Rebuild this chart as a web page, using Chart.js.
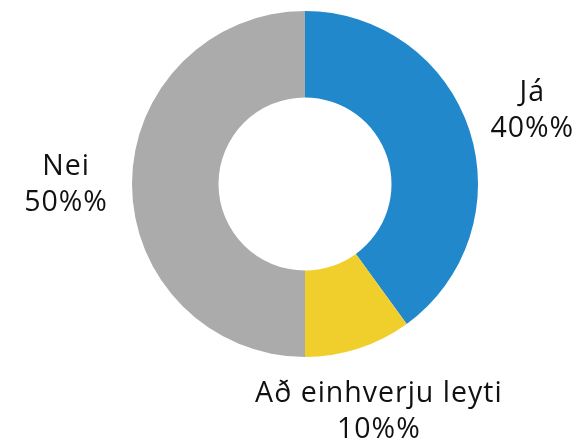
<!DOCTYPE html>
<html>
<head>
<meta charset="utf-8">
<script src="https://cdn.jsdelivr.net/npm/chart.js@4/dist/chart.umd.min.js"></script>
<style>
  html, body { margin: 0; padding: 0; background: #fff; }
  #wrap { width: 587px; height: 439px; }
</style>
</head>
<body>
<div id="wrap"><canvas id="pieChart" width="587" height="439"></canvas></div>
<script>
const categories = ["Já", "Að einhverju leyti", "Nei"];
const shares = [40, 10, 50];
const percentLabels = ["40%%", "10%%", "50%%"];
const sliceColors = ["#2188cc", "#f0cf2d", "#ababab"];

// draws "category / percent" outside each slice
const outsideLabels = {
    id: 'outsideLabels',
    afterDatasetsDraw(chart) {
        const ctx = chart.ctx;
        const meta = chart.getDatasetMeta(0);
        ctx.save();
        ctx.font = '28.5px "Open Sans", Lato, sans-serif';
        ctx.letterSpacing = '1px';
        ctx.fillStyle = '#111';
        ctx.textAlign = 'center';
        ctx.textBaseline = 'middle';
        meta.data.forEach((arc, i) => {
            const p = arc.getProps(['x', 'y', 'startAngle', 'endAngle', 'outerRadius'], true);
            const mid = (p.startAngle + p.endAngle) / 2;
            const r = p.outerRadius + 66;
            const x = p.x + Math.cos(mid) * r;
            const y = p.y + Math.sin(mid) * r;
            ctx.fillText(categories[i], x, y - 17);
            ctx.fillText(percentLabels[i], x, y + 19);
        });
        ctx.restore();
    }
};

const ctx = document.getElementById('pieChart').getContext('2d');
new Chart(ctx, {
    type: 'doughnut',
    data: {
        labels: categories,
        datasets: [{
            data: shares,
            backgroundColor: sliceColors,
            borderColor: '#fff',
            borderWidth: 0
        }]
    },
    options: {
        responsive: false,
        animation: false,
        cutout: '50%',
        layout: { padding: { left: 132, right: 109, top: 11, bottom: 82 } },
        plugins: {
            legend: { display: false },
            tooltip: { enabled: false }
        }
    },
    plugins: [outsideLabels]
});
</script>
</body>
</html>
